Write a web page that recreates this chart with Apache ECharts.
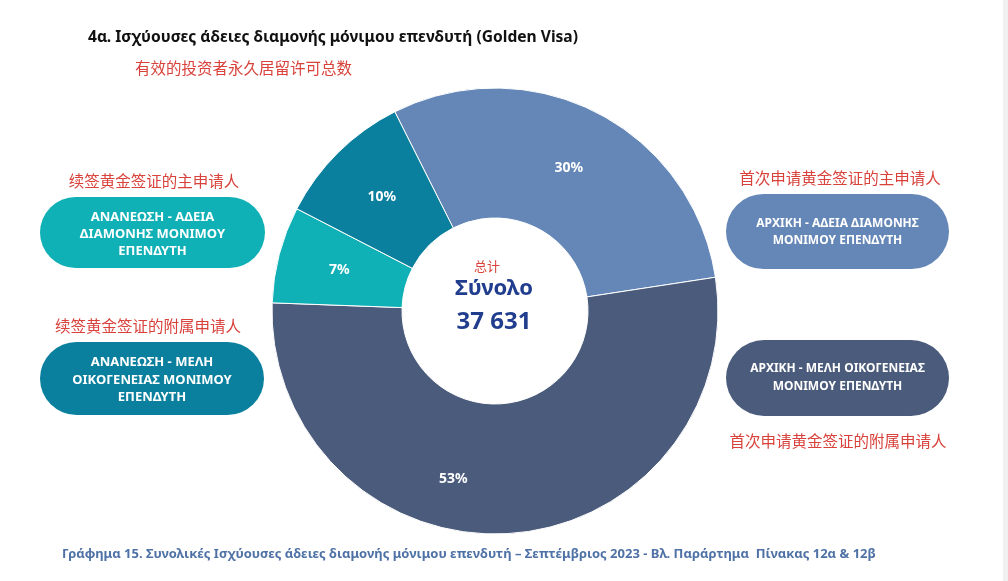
<!DOCTYPE html>
<html>
<head>
<meta charset="utf-8">
<script src="https://cdn.jsdelivr.net/npm/echarts@6/dist/echarts.min.js"></script>
<style>
html,body{margin:0;padding:0;background:#fff;}
#c{width:1008px;height:581px;}
</style>
</head>
<body>
<div id="c"></div>
<script>
// ---- data ----
const categories = [
  'ΑΡΧΙΚΗ - ΑΔΕΙΑ ΔΙΑΜΟΝΗΣ ΜΟΝΙΜΟΥ ΕΠΕΝΔΥΤΗ',
  'ΑΡΧΙΚΗ - ΜΕΛΗ ΟΙΚΟΓΕΝΕΙΑΣ ΜΟΝΙΜΟΥ ΕΠΕΝΔΥΤΗ',
  'ΑΝΑΝΕΩΣΗ - ΑΔΕΙΑ ΔΙΑΜΟΝΗΣ ΜΟΝΙΜΟΥ ΕΠΕΝΔΥΤΗ',
  'ΑΝΑΝΕΩΣΗ - ΜΕΛΗ ΟΙΚΟΓΕΝΕΙΑΣ ΜΟΝΙΜΟΥ ΕΠΕΝΔΥΤΗ'
];
const values = [11289, 19944, 2634, 3764];
const chineseLabels = [
  '首次申请黄金签证的主申请人',
  '首次申请黄金签证的附属申请人',
  '续签黄金签证的主申请人',
  '续签黄金签证的附属申请人'
];
const totalLabel = '37 631';
const titleText = '4α. Ισχύουσες άδειες διαμονής μόνιμου επενδυτή (Golden Visa)';
const subtitleText = '有效的投资者永久居留许可总数';
const captionText = 'Γράφημα 15. Συνολικές Ισχύουσες άδειες διαμονής μόνιμου επενδυτή – Σεπτέμβριος 2023 - Βλ. Παράρτημα  Πίνακας 12α & 12β';

// ---- style ----
const palette = ['#6587b7', '#4b5b7b', '#10b1b6', '#0b809e'];
const greekFont = '"Noto Sans", "Open Sans", sans-serif';
const cjkFont = '"Noto Sans CJK SC", sans-serif';
const red = '#d8423b';

const chart = echarts.init(document.getElementById('c'));

const pieData = categories.map((n, i) => {
  const d = { name: n, value: values[i], itemStyle: { color: palette[i] } };
  if (i === 1) d.label = { offset: [-51, 7] };
  return d;
});

function pill(x, y, w, h, color, lines, textYs, fs) {
  const els = [{
    type: 'rect', shape: { x: x, y: y, width: w, height: h, r: h / 2 },
    style: { fill: color }, z: 10
  }];
  lines.forEach((t, k) => {
    els.push({
      type: 'text', x: x + w / 2, y: textYs[k], z: 11,
      style: { text: t, fill: '#fff', font: 'bold ' + fs + 'px ' + greekFont, textAlign: 'center', textVerticalAlign: 'middle' }
    });
  });
  return els;
}

const graphics = [].concat(
  [{ type: 'rect', shape: { x: 1003, y: 0, width: 5, height: 581 }, style: { fill: '#f0f0f0' } }],
  [{ type: 'text', x: 88, y: 38, style: { text: titleText, fill: '#111', font: 'bold 15.6px ' + greekFont, textVerticalAlign: 'middle' } }],
  [{ type: 'text', x: 135, y: 68, style: { text: subtitleText, fill: red, font: '15.5px ' + cjkFont, textVerticalAlign: 'middle' } }],
  // left labels
  [{ type: 'text', x: 154, y: 181, style: { text: chineseLabels[2], fill: red, font: '15.5px ' + cjkFont, textAlign: 'center', textVerticalAlign: 'middle' } }],
  pill(40, 197, 225, 71, palette[2], ['ΑΝΑΝΕΩΣΗ - ΑΔΕΙΑ', 'ΔΙΑΜΟΝΗΣ ΜΟΝΙΜΟΥ', 'ΕΠΕΝΔΥΤΗ'], [217, 234, 251], 13),
  [{ type: 'text', x: 148, y: 326, style: { text: chineseLabels[3], fill: red, font: '15.5px ' + cjkFont, textAlign: 'center', textVerticalAlign: 'middle' } }],
  pill(40, 342, 224, 73, palette[3], ['ΑΝΑΝΕΩΣΗ - ΜΕΛΗ', 'ΟΙΚΟΓΕΝΕΙΑΣ ΜΟΝΙΜΟΥ', 'ΕΠΕΝΔΥΤΗ'], [362, 380, 397], 13),
  // right labels
  [{ type: 'text', x: 840, y: 178, style: { text: chineseLabels[0], fill: red, font: '15.5px ' + cjkFont, textAlign: 'center', textVerticalAlign: 'middle' } }],
  pill(726, 194, 223, 75, palette[0], ['ΑΡΧΙΚΗ - ΑΔΕΙΑ ΔΙΑΜΟΝΗΣ', 'ΜΟΝΙΜΟΥ ΕΠΕΝΔΥΤΗ'], [224, 241], 12),
  pill(726, 340, 223, 76, palette[1], ['ΑΡΧΙΚΗ - ΜΕΛΗ ΟΙΚΟΓΕΝΕΙΑΣ', 'ΜΟΝΙΜΟΥ ΕΠΕΝΔΥΤΗ'], [369, 387], 12),
  [{ type: 'text', x: 838, y: 441, style: { text: chineseLabels[1], fill: red, font: '15.5px ' + cjkFont, textAlign: 'center', textVerticalAlign: 'middle' } }],
  // center
  [{ type: 'text', x: 487, y: 266, style: { text: '总计', fill: red, font: '13px ' + cjkFont, textAlign: 'center', textVerticalAlign: 'middle' } }],
  [{ type: 'text', x: 494, y: 289, style: { text: 'Σύνολο', fill: '#213e8e', font: 'bold 22px ' + greekFont, textAlign: 'center', textVerticalAlign: 'middle' } }],
  [{ type: 'text', x: 494, y: 322, style: { text: totalLabel, fill: '#213e8e', font: 'bold 24px ' + greekFont, textAlign: 'center', textVerticalAlign: 'middle' } }],
  // caption
  [{ type: 'text', x: 62, y: 554, style: { text: captionText, fill: '#4f72a6', font: 'bold 13px ' + greekFont, textVerticalAlign: 'middle' } }]
);

chart.setOption({
  backgroundColor: '#fff',
  animation: false,
  series: [{
    type: 'pie',
    center: [495, 311],
    radius: [93, 223],
    startAngle: 116.7,
    clockwise: true,
    avoidLabelOverlap: false,
    itemStyle: { borderColor: '#fff', borderWidth: 1 },
    label: {
      show: true, position: 'inside',
      formatter: p => Math.round(p.percent) + '%',
      color: '#fff', fontWeight: 'bold', fontSize: 14, fontFamily: greekFont
    },
    labelLine: { show: false },
    emphasis: { disabled: true },
    data: pieData
  }],
  graphic: graphics
});
</script>
</body>
</html>
